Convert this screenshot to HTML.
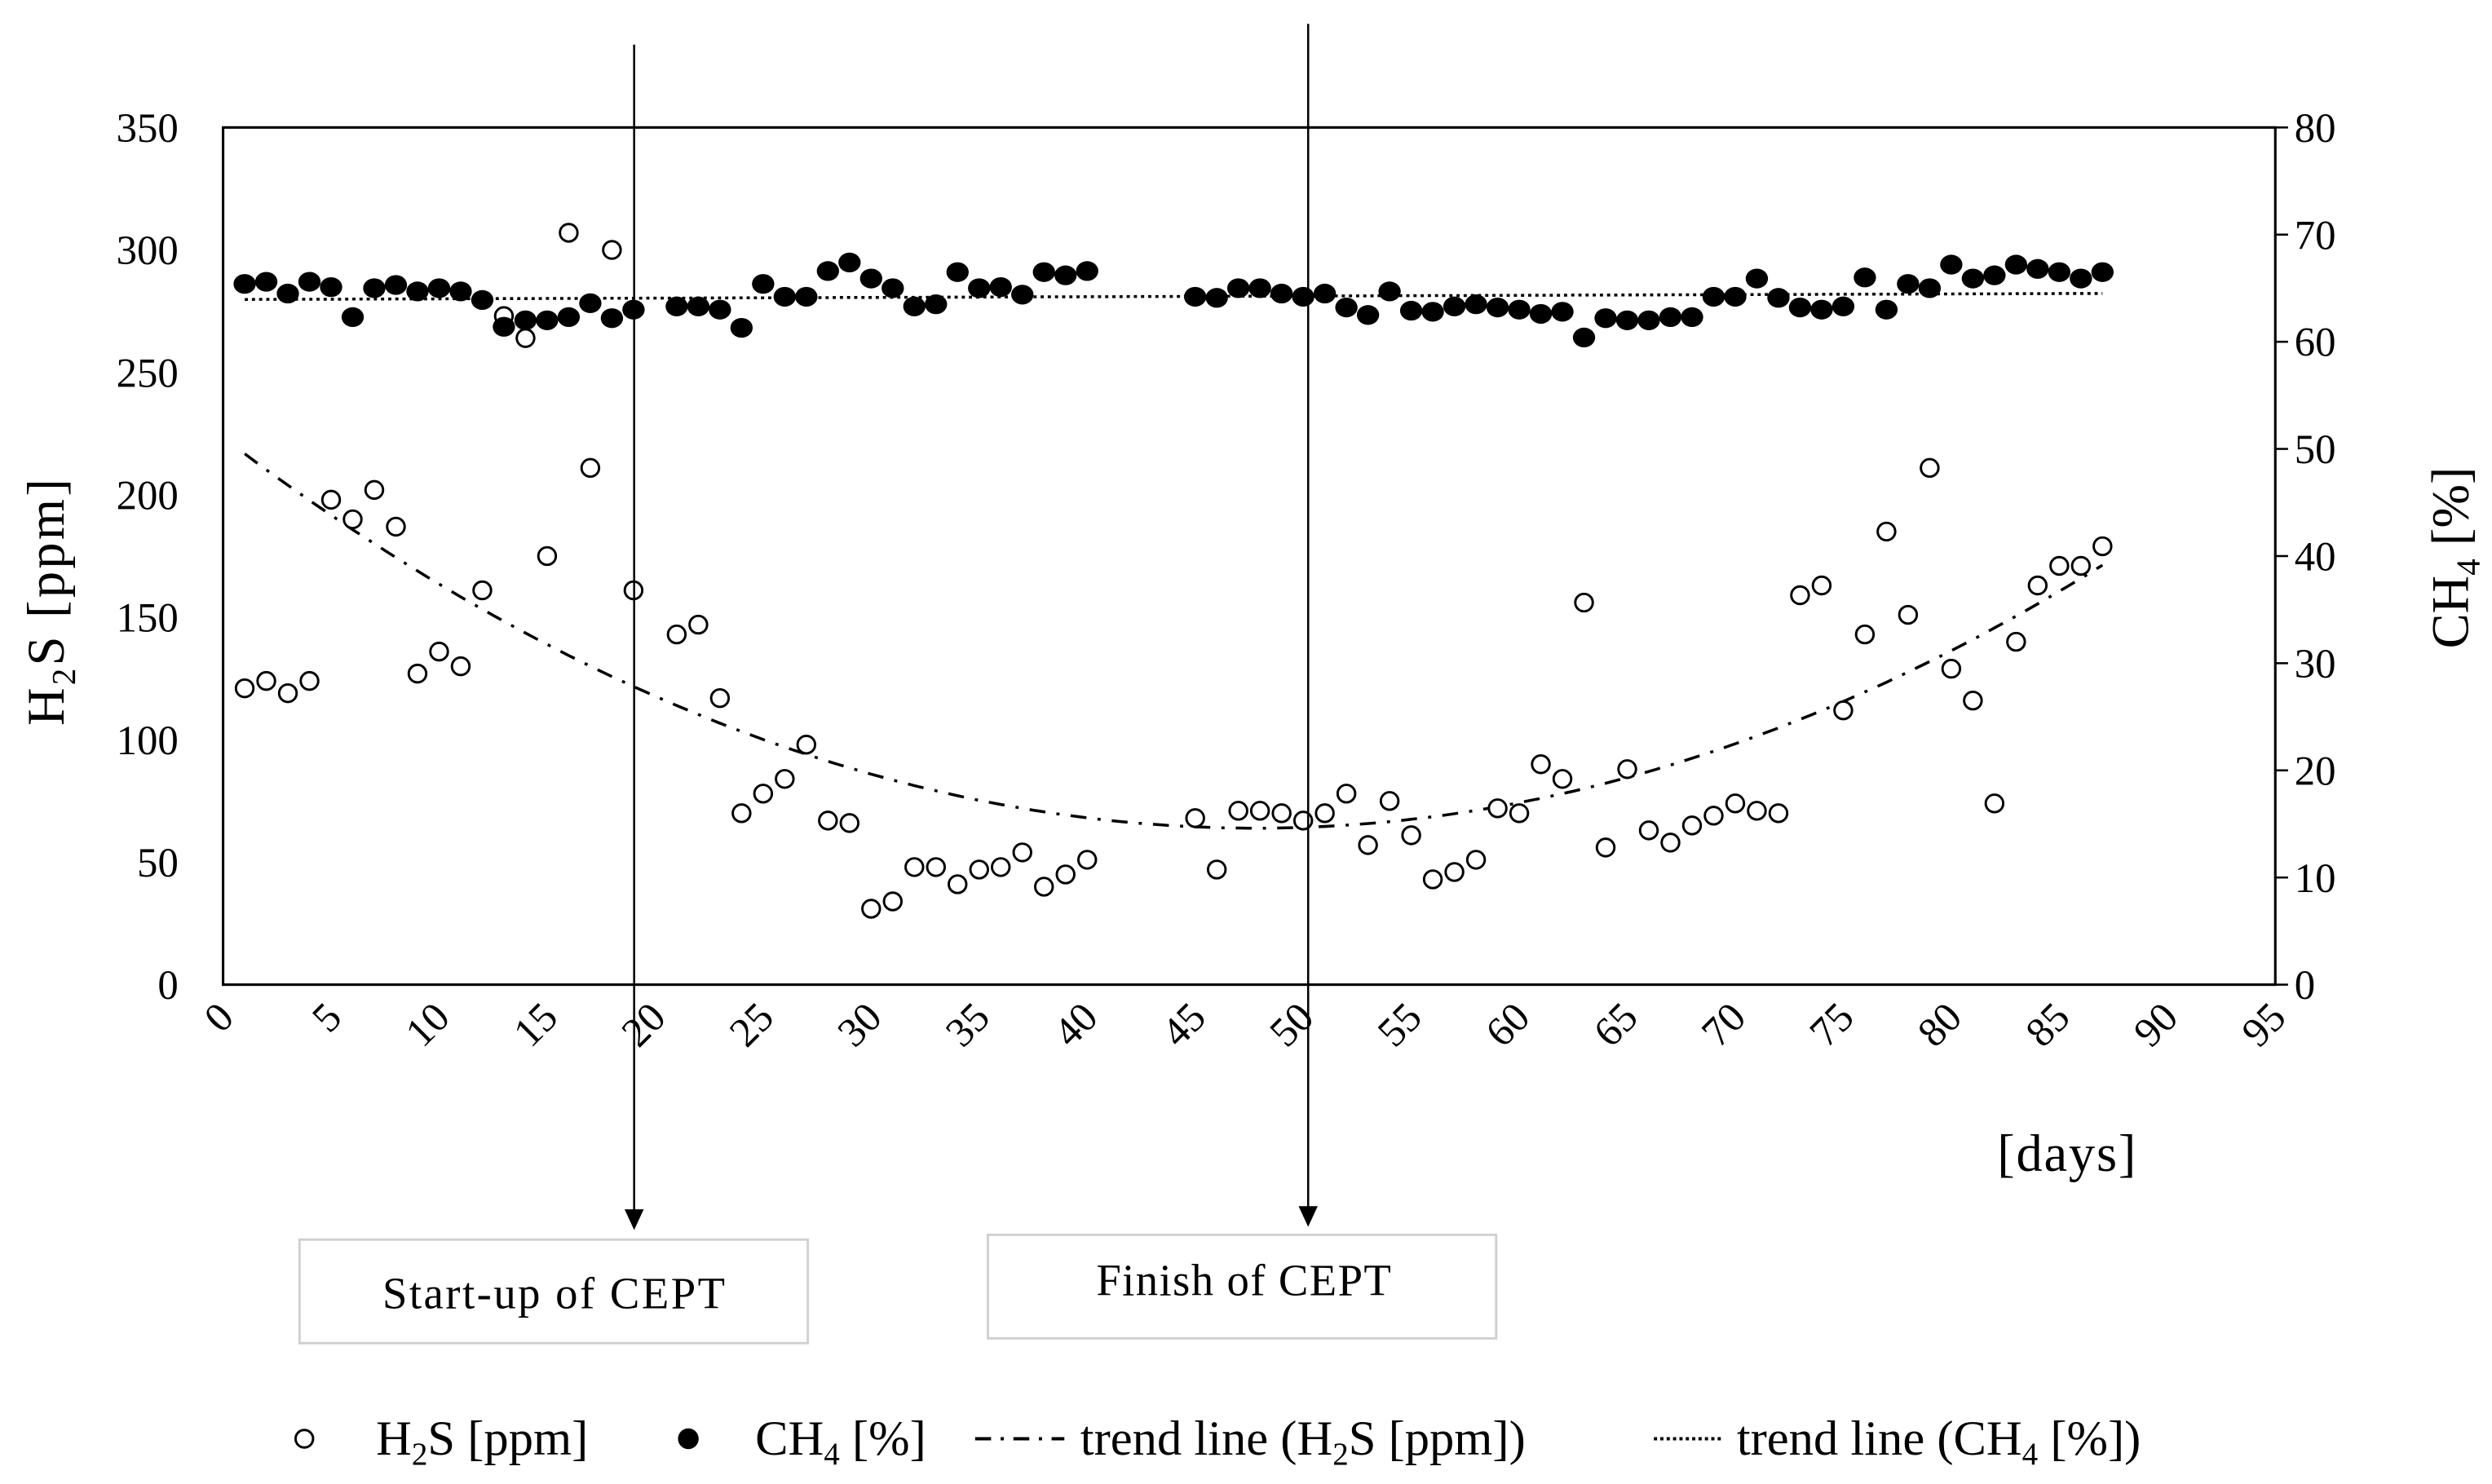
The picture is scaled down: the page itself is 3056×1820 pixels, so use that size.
<!DOCTYPE html>
<html><head><meta charset="utf-8"><style>
html,body{margin:0;padding:0;background:#fff;}
svg{display:block;font-family:"Liberation Serif",serif;}
</style></head><body>
<svg id="chart" width="3056" height="1820" viewBox="0 0 1564 931.4" preserveAspectRatio="none" xmlns="http://www.w3.org/2000/svg" xml:space="preserve">
<rect x="0" y="0" width="1564" height="932" fill="#fff"/>
<rect x="140" y="80" width="1288" height="538" fill="none" stroke="#000" stroke-width="1.6"/>
<g id="ticks"></g>
<g id="trends"></g>
<g id="marks"></g>
<text transform="translate(40,378) rotate(-90)" text-anchor="middle" font-size="33" textLength="155">H<tspan font-size="21" dy="7">2</tspan><tspan dy="-7">S [ppm]</tspan></text>
<text transform="translate(1549,350) rotate(-90)" text-anchor="middle" font-size="33">CH<tspan font-size="21" dy="7">4</tspan><tspan dy="-7"> [%]</tspan></text>
<text x="1297" y="735" text-anchor="middle" font-size="33" textLength="87">[days]</text>
<g>
<line x1="398" y1="28" x2="398" y2="760" stroke="#000" stroke-width="1.3"/>
<polygon points="392,759 404,759 398,772" fill="#000"/>
<rect x="188" y="778" width="319" height="65" fill="#fff" stroke="#d0d0d0" stroke-width="1.5"/>
<text x="240" y="821" font-size="28" textLength="215">Start-up of CEPT</text>
</g>
<g>
<line x1="821" y1="15" x2="821" y2="758" stroke="#000" stroke-width="1.3"/>
<polygon points="815,757 827,757 821,770" fill="#000"/>
<rect x="620" y="775" width="319" height="65" fill="#fff" stroke="#d0d0d0" stroke-width="1.5"/>
<text x="688" y="813" font-size="28" textLength="185">Finish of CEPT</text>
</g>
<g font-size="31">
<circle cx="191" cy="903" r="5.5" fill="#fff" stroke="#000" stroke-width="1.5"/>
<text x="236" y="913">H<tspan font-size="20" dy="6">2</tspan><tspan dy="-6">S [ppm]</tspan></text>
<circle cx="432" cy="903" r="6.5" fill="#000"/>
<text x="474" y="913">CH<tspan font-size="20" dy="6">4</tspan><tspan dy="-6"> [%]</tspan></text>
<line x1="612" y1="903" x2="668" y2="903" stroke="#000" stroke-width="2" stroke-dasharray="10,6,2,6"/>
<text x="678" y="913">trend line  (H<tspan font-size="20" dy="6">2</tspan><tspan dy="-6">S [ppm])</tspan></text>
<line x1="1038" y1="903" x2="1082" y2="903" stroke="#000" stroke-width="2" stroke-dasharray="2,2"/>
<text x="1090" y="913">trend line  (CH<tspan font-size="20" dy="6">4</tspan><tspan dy="-6"> [%])</tspan></text>
</g>
</svg>
<script>
const xTicks = [0,5,10,15,20,25,30,35,40,45,50,55,60,65,70,75,80,85,90,95];
const yLeftTicks = [0,50,100,150,200,250,300,350];
const yRightTicks = [0,10,20,30,40,50,60,70,80];
const h2sDays = [1,2,3,4,5,6,7,8,9,10,11,12,13,14,15,16,17,18,19,21,22,23,24,25,26,27,28,29,30,31,32,33,34,35,36,37,38,39,40,45,46,47,48,49,50,51,52,53,54,55,56,57,58,59,60,61,62,63,64,65,66,67,68,69,70,71,72,73,74,75,76,77,78,79,80,81,82,83,84,85,86,87];
const h2sValues = [121,124,119,124,198,190,202,187,127,136,130,161,273,264,175,307,211,300,161,143,147,117,70,78,84,98,67,66,31,34,48,48,41,47,48,54,40,45,51,68,47,71,71,70,67,70,78,57,75,61,43,46,51,72,70,90,84,156,56,88,63,58,65,69,74,71,70,159,163,112,143,185,151,211,129,116,74,140,163,171,171,179];
const ch4Days = [1,2,3,4,5,6,7,8,9,10,11,12,13,14,15,16,17,18,19,21,22,23,24,25,26,27,28,29,30,31,32,33,34,35,36,37,38,39,40,45,46,47,48,49,50,51,52,53,54,55,56,57,58,59,60,61,62,63,64,65,66,67,68,69,70,71,72,73,74,75,76,77,78,79,80,81,82,83,84,85,86,87];
const ch4Values = [65.4,65.6,64.5,65.6,65.1,62.3,65.0,65.3,64.7,65.0,64.7,63.9,61.4,62.0,62.0,62.3,63.6,62.2,63.0,63.3,63.3,63.0,61.3,65.4,64.2,64.2,66.6,67.4,65.9,65.0,63.3,63.5,66.5,65.0,65.1,64.4,66.5,66.2,66.6,64.2,64.1,65.0,65.0,64.5,64.2,64.5,63.2,62.5,64.7,62.9,62.8,63.3,63.5,63.2,63.0,62.6,62.8,60.4,62.2,62.0,62.0,62.3,62.3,64.2,64.2,65.9,64.1,63.2,63.0,63.3,66.0,63.0,65.4,65.0,67.2,65.9,66.2,67.2,66.8,66.5,65.9,66.5];

const NS='http://www.w3.org/2000/svg';
const X0=140,X1=1428,Y0=618,Y1=80;
const xS=d=>X0+(d/95)*(X1-X0);
const yL=v=>Y0-(v/350)*(Y0-Y1);
const yR=v=>Y0-(v/80)*(Y0-Y1);
function mk(tag,attrs,parent){const e=document.createElementNS(NS,tag);for(const k in attrs)e.setAttribute(k,attrs[k]);parent.appendChild(e);return e;}
const ticks=document.getElementById('ticks'),marks=document.getElementById('marks'),trends=document.getElementById('trends');

xTicks.forEach(t=>{
  const px=xS(t)+8, py=640;
  const tx=mk('text',{x:px,y:py,'text-anchor':'end','font-size':'26',transform:`rotate(-45 ${px} ${py})`},ticks);
  
  
  tx.textContent=t;
});
yLeftTicks.forEach(t=>{
  const tx=mk('text',{x:112,y:yL(t)+9,'text-anchor':'end','font-size':'26'},ticks);
  
  
  tx.textContent=t;
});
yRightTicks.forEach(t=>{
  mk('line',{x1:X1,x2:X1+8,y1:yR(t),y2:yR(t),stroke:'#000','stroke-width':1.3},ticks);
  const tx=mk('text',{x:1440,y:yR(t)+9,'text-anchor':'start','font-size':'26'},ticks);
  
  
  tx.textContent=t;
});

function polyfit(xs,ys,deg){
  const n=deg+1,A=[];for(let i=0;i<n;i++){A.push(new Array(n+1).fill(0));}
  for(let k=0;k<xs.length;k++){for(let i=0;i<n;i++){for(let j=0;j<n;j++)A[i][j]+=Math.pow(xs[k],i+j);A[i][n]+=ys[k]*Math.pow(xs[k],i);}}
  for(let i=0;i<n;i++){let p=i;for(let r=i+1;r<n;r++)if(Math.abs(A[r][i])>Math.abs(A[p][i]))p=r;[A[i],A[p]]=[A[p],A[i]];
    for(let r=0;r<n;r++){if(r===i)continue;const f=A[r][i]/A[i][i];for(let c=i;c<=n;c++)A[r][c]-=f*A[i][c];}}
  return A.map((r,i)=>r[n]/r[i]);
}
const ev=(c,x)=>c.reduce((s,a,i)=>s+a*Math.pow(x,i),0);
const cH=polyfit(h2sDays,h2sValues,2), cC=polyfit(ch4Days,ch4Values,1);
let dH='',dC='';
for(let d=1;d<=87;d+=0.5){dH+=(d===1?'M':'L')+xS(d).toFixed(1)+','+yL(ev(cH,d)).toFixed(1);dC+=(d===1?'M':'L')+xS(d).toFixed(1)+','+yR(ev(cC,d)).toFixed(1);}
const th=mk('path',{d:dH,fill:'none',stroke:'#000','stroke-width':1.8,'stroke-dasharray':'10,7,2,7'},trends);


const tc=mk('path',{d:dC,fill:'none',stroke:'#000','stroke-width':1.8,'stroke-dasharray':'2,2.5'},trends);



h2sDays.forEach((d,i)=>{
  const c=mk('circle',{cx:xS(d),cy:yL(h2sValues[i]),r:5.5,fill:'#fff',stroke:'#000','stroke-width':1.5},marks);
  
  
});
ch4Days.forEach((d,i)=>{
  const c=mk('ellipse',{cx:xS(d),cy:yR(ch4Values[i]),rx:7,ry:6.2,fill:'#000'},marks);
  
  
});
</script>
</body></html>
